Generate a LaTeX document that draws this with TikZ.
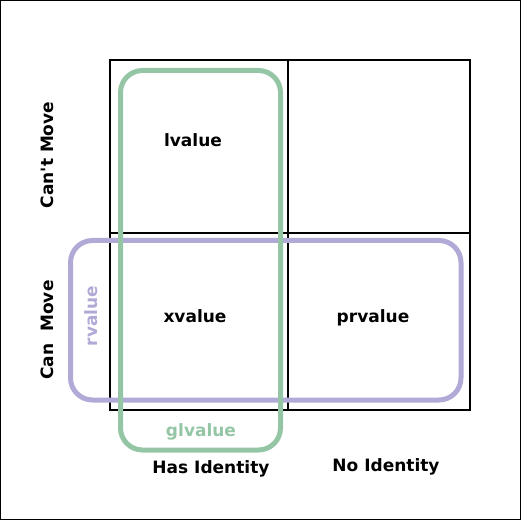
\documentclass[tikz,border=0pt]{standalone}
\usepackage{fontspec}
\setmainfont{DejaVu Sans}
\definecolor{setgreen}{RGB}{148,198,166}
\definecolor{setpurple}{RGB}{177,169,214}
\begin{document}
\begin{tikzpicture}[x=1pt,y=-1pt,
  lbl/.style={font=\bfseries\fontsize{17}{19}\selectfont, inner sep=0pt, anchor=base},
  vlbl/.style={lbl, rotate=90},
  cell/.style={draw=black, line width=1.5pt},
  setbox/.style={line width=5pt, rounded corners=22pt}]
\useasboundingbox (0,0) rectangle (522,521);
\draw[line width=1pt] (0.5,0.5) rectangle (520.5,519.5);

% the 2x2 grid of categories
\coordinate (tl) at (110,60);
\coordinate (br) at (470,410);
\draw[cell] (tl) rectangle (br);
\draw[cell] (288,60) -- (288,410);
\draw[cell] (110,233) -- (470,233);

% rvalue and glvalue groupings
\draw[setbox, draw=setpurple] (70.5,240.5) rectangle (461,400);
\draw[setbox, draw=setgreen] (120.5,70.5) rectangle (280.5,450);

% cell labels
\node[lbl] (lv) at (193,146.5) {lvalue};
\node[lbl] (xv) at (195,322.5) {xvalue};
\node[lbl] (prv) at (373,322.5) {prvalue};

% group labels
\node[vlbl, text=setpurple] (rv) at (97.5,316) {rvalue};
\node[lbl, text=setgreen] (glv) at (201,436.5) {glvalue};

% axis labels
\node[vlbl] (cm) at (53.5,155) {Can\textquotesingle t Move};
\node[vlbl] (m) at (53.5,330) {Can\ \ Move};
\node[lbl] (hi) at (211,473.5) {Has Identity};
\node[lbl] (ni) at (386,471.5) {No Identity};
\end{tikzpicture}
\end{document}
